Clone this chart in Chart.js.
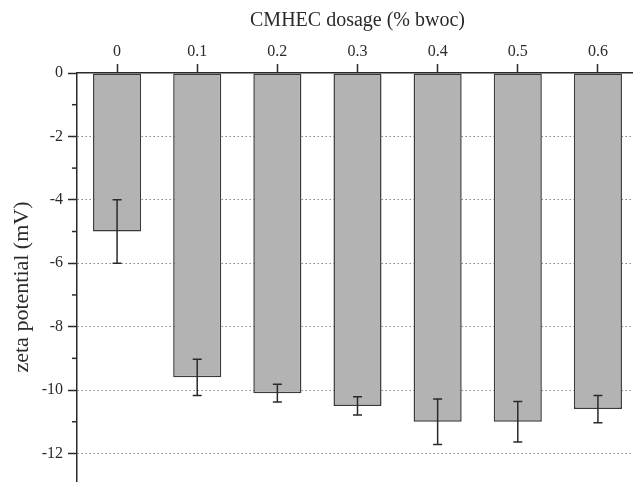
<!DOCTYPE html>
<html>
<head>
<meta charset="utf-8">
<script src="https://cdn.jsdelivr.net/npm/chart.js@4/dist/chart.umd.min.js"></script>
<style>
  html, body { margin: 0; padding: 0; background: #fff; overflow: hidden; }
  canvas { display: block; }
</style>
</head>
<body>
<canvas id="chart" width="640" height="501"></canvas>
<script>
const dosages = ["0", "0.1", "0.2", "0.3", "0.4", "0.5", "0.6"];
const zetaValues = [-5, -9.6, -10.1, -10.5, -11, -11, -10.6];
const zetaErrors = [1, 0.57, 0.28, 0.29, 0.72, 0.64, 0.43];

const serif = "'Liberation Serif', 'Times New Roman', serif";
const ink = "#2a2a2a";

// error bars + minor ticks on the y axis, drawn through the scales
const errorBars = {
  id: "errorBars",
  afterDatasetsDraw(chart) {
    const { ctx } = chart;
    const y = chart.scales.y;
    const meta = chart.getDatasetMeta(0);
    ctx.save();
    ctx.strokeStyle = ink;
    ctx.lineWidth = 1.5;
    meta.data.forEach((bar, i) => {
      const top = y.getPixelForValue(zetaValues[i] + zetaErrors[i]);
      const bottom = y.getPixelForValue(zetaValues[i] - zetaErrors[i]);
      ctx.beginPath();
      ctx.moveTo(bar.x, top);
      ctx.lineTo(bar.x, bottom);
      ctx.moveTo(bar.x - 4.5, top);
      ctx.lineTo(bar.x + 4.5, top);
      ctx.moveTo(bar.x - 4.5, bottom);
      ctx.lineTo(bar.x + 4.5, bottom);
      ctx.stroke();
    });
    ctx.restore();
  },
  afterDraw(chart) {
    const { ctx } = chart;
    const y = chart.scales.y;
    ctx.save();
    ctx.strokeStyle = ink;
    ctx.lineWidth = 1.5;
    for (let v = -1; v >= y.min; v -= 2) {
      const py = y.getPixelForValue(v);
      ctx.beginPath();
      ctx.moveTo(y.right - 5, py);
      ctx.lineTo(y.right, py);
      ctx.stroke();
    }
    ctx.restore();
  }
};

new Chart(document.getElementById("chart"), {
  type: "bar",
  data: {
    labels: dosages,
    datasets: [
      {
        data: zetaValues,
        backgroundColor: "#b3b3b3",
        borderColor: "#3a3a3a",
        borderWidth: 1.5,
        borderSkipped: false,
        barPercentage: 0.6,
        categoryPercentage: 1
      }
    ]
  },
  options: {
    responsive: false,
    animation: false,
    layout: { padding: { left: 0, right: 2, top: 0, bottom: 0 } },
    plugins: {
      legend: { display: false },
      tooltip: { enabled: false }
    },
    scales: {
      x: {
        position: "top",
        offset: true,
        afterFit: (scale) => {
          scale.height = 73;
          scale.paddingLeft = 0;
          scale.paddingRight = 0;
        },
        grid: {
          offset: false,
          drawOnChartArea: false,
          tickLength: 9,
          tickColor: ink,
          tickWidth: 1.5
        },
        border: { color: ink, width: 1.5 },
        ticks: {
          color: ink,
          padding: 3,
          maxRotation: 0,
          font: { family: serif, size: 16 }
        },
        title: {
          display: true,
          text: "CMHEC dosage (% bwoc)",
          color: ink,
          padding: { top: 9, bottom: 0 },
          font: { family: serif, size: 20 }
        }
      },
      y: {
        min: -13.5,
        max: 0,
        afterFit: (scale) => {
          scale.width = 77;
          scale.paddingTop = 0;
          scale.paddingBottom = 0;
        },
        grid: {
          color: (ctx) => (ctx.tick && ctx.tick.value === 0 ? "rgba(0,0,0,0)" : "#8a8a8a"),
          lineWidth: 1,
          tickLength: 9,
          tickColor: ink,
          tickWidth: 1.5
        },
        border: { color: ink, width: 1.5, dash: [1.5, 2.5] },
        ticks: {
          stepSize: 2,
          includeBounds: false,
          color: ink,
          padding: 5,
          font: { family: serif, size: 16 }
        },
        title: {
          display: true,
          text: "zeta potential (mV)",
          color: ink,
          padding: { top: 9, bottom: 0 },
          font: { family: serif, size: 22 }
        }
      }
    }
  },
  plugins: [errorBars]
});
</script>
</body>
</html>
